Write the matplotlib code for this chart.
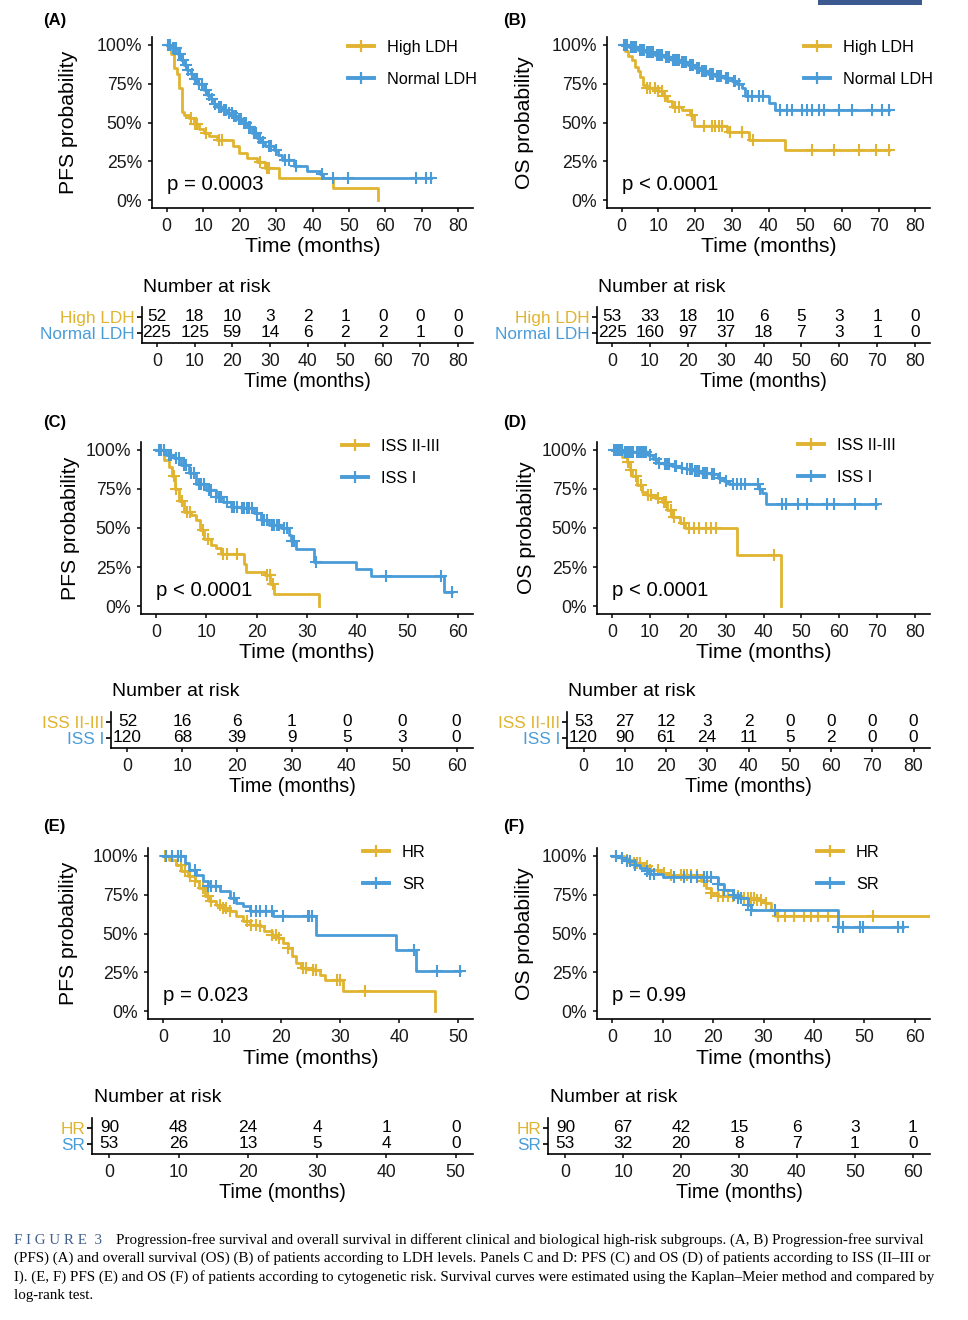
import numpy as np
import matplotlib
matplotlib.use("Agg")
import matplotlib.pyplot as plt
from matplotlib.lines import Line2D
from matplotlib.patches import Rectangle

plt.rcParams['font.family'] = ['Liberation Sans', 'DejaVu Sans']

GOLD = "#E0B430"
BLUE = "#4A9CD8"
W, H = 968, 1320

# ---- panel A: PFS by LDH ----
a_high_t = [0, 1.2, 2.1, 2.8, 3.4, 4.1, 4.8, 6.2, 7.5, 8.9, 10.3, 11.6, 13.9, 18.3, 19.8, 22.1, 24.8, 27.1, 30.7, 45.5, 58.0]
a_high_s = [1.0, 0.94, 0.85, 0.81, 0.72, 0.57, 0.55, 0.53, 0.49, 0.455, 0.43, 0.41, 0.385, 0.35, 0.305, 0.27, 0.246, 0.21, 0.145, 0.077, 0.0]
a_high_c = [6.6, 7.8, 8.4, 10.7, 14.4, 15.3, 25.6, 27.5, 28.0]
a_norm_t = [0, 1.5, 3, 4, 4.8, 5.7, 6.6, 7.5, 8.5, 10.3, 11.2, 12.1, 13, 13.9, 15.2, 16.6, 18, 19.4, 20.8, 22.1, 23.5,
            24.8, 26, 27.1, 29.4, 30.5, 31.6, 34.8, 38.4, 42.1, 43, 72.5]
a_norm_s = [1.0, 0.98, 0.94, 0.90, 0.87, 0.84, 0.81, 0.78, 0.75, 0.71, 0.68, 0.65, 0.62, 0.60, 0.58, 0.56, 0.54, 0.52, 0.495,
            0.47, 0.435, 0.40, 0.375, 0.35, 0.32, 0.29, 0.26, 0.22, 0.19, 0.167, 0.14, 0.14]
a_norm_c = [0.5, 1, 1.8, 2.3, 2.7, 3.3, 3.8, 4.4, 5.2, 6, 6.9, 7.8, 8.2, 9, 9.6, 10.8, 11.5, 12.5, 13.4, 14.5, 15, 15.8,
            16.3, 17.2, 17.8, 18.5, 19, 19.8, 20.3, 21.2, 21.7, 22.6, 23, 24, 24.4, 25.2, 25.6, 26.5, 28, 28.6, 30, 32.5,
            33.5, 35.5, 42.5, 45.7, 49.8, 68.4, 71.2, 72.5]

# ---- panel B: OS by LDH ----
b_high_t = [0, 0.9, 1.8, 2.7, 3.6, 4.5, 5.0, 5.9, 6.8, 10.0, 11.4, 12.3, 13.6, 16.4, 18.6, 19.6, 28.7, 34.6, 44.6, 72.8]
b_high_s = [1.0, 0.957, 0.925, 0.90, 0.86, 0.83, 0.79, 0.744, 0.72, 0.70, 0.67, 0.64, 0.60, 0.58, 0.55, 0.476, 0.44, 0.385, 0.32, 0.32]
b_high_c = [6.8, 7.7, 9.1, 10, 10.9, 11.8, 14.5, 15.5, 19.1, 22.3, 24.6, 25.5, 26.4, 27.3, 29.6, 32.7, 35.9, 51.9, 57.8,
            64.6, 69.2, 72.8]
b_norm_t = [0, 2, 4.5, 6.5, 9.1, 11.5, 13.6, 16, 18.2, 20, 21.8, 23.5, 25.5, 28, 30, 31.5, 32.8, 33.7, 40, 41.9, 72.8]
b_norm_s = [1.0, 0.985, 0.968, 0.952, 0.936, 0.92, 0.904, 0.888, 0.872, 0.85, 0.83, 0.815, 0.80, 0.785, 0.765, 0.745,
            0.72, 0.67, 0.626, 0.583, 0.583]
b_norm_c = [0.5, 1, 1.5, 2.5, 3, 3.5, 4, 5, 5.5, 6, 7, 7.5, 8, 8.5, 9.5, 10, 10.5, 11, 12, 12.5, 13, 14, 14.5, 15, 15.5,
            16.5, 17, 17.5, 18.5, 19, 19.5, 20.5, 21, 22, 22.5, 23, 24, 24.5, 25, 26, 26.5, 27, 28.5, 29, 30.5, 31, 32,
            34.5, 35.5, 37.5, 38.5, 43.2, 45, 46.4, 49.1, 50.5, 51.9, 53.7, 55, 59.1, 62.8, 68.2, 71, 72.8]

# ---- panel C: PFS by ISS ----
c_iss3_t = [0, 1.5, 2.5, 3.2, 3.8, 4.5, 5.5, 7, 8, 8.8, 9.5, 10.9, 11.9, 12.9, 17.4, 17.9, 21.7, 22.7, 23.4, 32.3]
c_iss3_s = [1.0, 0.936, 0.89, 0.83, 0.75, 0.67, 0.60, 0.58, 0.55, 0.486, 0.43, 0.39, 0.37, 0.336, 0.27, 0.22, 0.197, 0.143, 0.075, 0.0]
c_iss3_c = [3.5, 4.0, 5.1, 6.1, 6.8, 9.4, 10.4, 13.4, 14.1, 16.0, 22.0, 22.6, 23.3]
c_iss1_t = [0, 2, 3.5, 5, 6.5, 8, 10, 11.9, 13.4, 14.9, 16.9, 19.4, 20.9, 22.4, 24.9, 26.4, 26.9, 27.9, 31.3, 39.8, 42.8, 57.2, 58.9]
c_iss1_s = [1.0, 0.968, 0.946, 0.90, 0.85, 0.78, 0.74, 0.70, 0.668, 0.636, 0.625, 0.593, 0.55, 0.52, 0.497, 0.454, 0.42,
            0.368, 0.283, 0.24, 0.19, 0.09, 0.09]
c_iss1_c = [0.5, 1, 1.5, 2.5, 3, 4, 4.5, 5.5, 6, 7, 7.5, 8.5, 9, 9.5, 10.5, 11, 12, 12.5, 13, 14, 15, 15.5, 16, 17, 17.5,
            18, 18.5, 19, 20, 21, 21.5, 22, 23, 23.5, 24, 24.5, 25.5, 26, 27, 27.5, 31.8, 45.8, 56.7, 58.9]

# ---- panel D: OS by ISS ----
d_iss3_t = [0, 2.6, 4.0, 4.6, 5.3, 6.6, 7.9, 9.3, 11.2, 13.2, 14.6, 15.9, 17.9, 19.2, 33.1, 44.6]
d_iss3_s = [1.0, 0.957, 0.925, 0.87, 0.83, 0.775, 0.73, 0.71, 0.69, 0.668, 0.615, 0.572, 0.53, 0.497, 0.33, 0.0]
d_iss3_c = [4.1, 4.9, 6.2, 7.6, 9.4, 10.2, 12.0, 13.7, 14.2, 15.5, 16.4, 19.0, 20.4, 21.7, 23.0, 24.8, 26.1, 27.4, 42.8]
d_iss1_t = [0, 3, 9.4, 10.8, 12, 13.7, 15.9, 18.1, 19.4, 21.7, 23.4, 26.1, 27.9, 29.6, 31.0, 38.8, 39.7, 40.6, 70]
d_iss1_s = [1.0, 0.985, 0.97, 0.94, 0.918, 0.908, 0.897, 0.886, 0.876, 0.865, 0.854, 0.843, 0.822, 0.80, 0.783, 0.747,
            0.725, 0.655, 0.655]
d_iss1_c = [0.5, 1, 1.5, 2, 2.5, 3.5, 4, 4.5, 5, 5.5, 6.5, 7, 7.5, 8, 8.5, 9, 10, 11.5, 12.5, 14, 14.5, 15, 16.5, 17,
            18.5, 19.8, 20.5, 21, 22, 22.5, 23, 24, 24.5, 25, 26.5, 27, 28.5, 30, 32, 33, 34, 35, 38.5, 39.2, 45, 45.9,
            49, 51.6, 56.9, 58.6, 64.3, 69.6]

# ---- panel E: PFS by cytogenetic risk ----
e_hr_t = [0, 1.1, 2.3, 3.1, 4.2, 5.4, 6.2, 7.1, 7.9, 9, 10.2, 11.3, 12.4, 13.6, 14.7, 16.4, 17.2, 18.4, 19.5, 20.3, 21.2,
          21.8, 22.6, 23.4, 25.4, 26.6, 27.4, 30.5, 46]
e_hr_s = [1.0, 0.974, 0.942, 0.90, 0.867, 0.835, 0.79, 0.74, 0.707, 0.685, 0.664, 0.642, 0.61, 0.578, 0.557, 0.546, 0.514,
          0.49, 0.471, 0.439, 0.407, 0.353, 0.31, 0.278, 0.268, 0.236, 0.199, 0.133, 0.0]
e_hr_c = [0.3, 3, 3.8, 4.6, 5.4, 6.8, 7.6, 8.2, 9.6, 10.2, 10.7, 11.3, 14.2, 15, 15.8, 16.4, 18.5, 19.2, 19.7, 21.2,
          23.7, 24.3, 25.4, 26, 29.4, 30, 34.2]
e_sr_t = [0, 3.7, 4.5, 5.6, 6.8, 7.6, 9.6, 11.3, 12.4, 13.6, 14.7, 18.6, 26, 39.5, 42.9, 50.3]
e_sr_s = [1.0, 0.953, 0.91, 0.878, 0.835, 0.803, 0.771, 0.728, 0.696, 0.675, 0.642, 0.61, 0.49, 0.396, 0.26, 0.26]
e_sr_c = [0.5, 1.5, 2.5, 3, 5.5, 7.6, 8.2, 9, 12, 15, 15.8, 16.5, 17.5, 18.5, 20.4, 24.5, 24.8, 25.2, 42.5, 46.4, 50.3]

# ---- panel F: OS by cytogenetic risk ----
f_hr_t = [0, 2.3, 4.3, 6.3, 7.6, 9.6, 10.9, 17.6, 18.6, 19.6, 20.9, 25.9, 28.8, 30.2, 31.5, 32.2, 63]
f_hr_s = [1.0, 0.974, 0.953, 0.931, 0.91, 0.889, 0.878, 0.835, 0.792, 0.76, 0.739, 0.728, 0.717, 0.696, 0.653, 0.61, 0.61]
f_hr_c = [0.7, 3, 4.3, 5, 5.6, 7, 7.6, 9, 10.3, 11.6, 13.6, 14.3, 14.9, 15.6, 16.9, 18.2, 19.6, 20.9, 21.9, 22.9, 23.9,
          24.9, 26.2, 26.9, 27.5, 28.2, 28.8, 29.5, 30.5, 32.8, 34.2, 36.1, 38.1, 39.5, 40.8, 42.8, 51.7]
f_sr_t = [0, 1.7, 3, 4.5, 5.6, 7, 7.6, 10, 20.9, 22.2, 23.9, 24.9, 26.9, 27.5, 44.8, 57.7]
f_sr_s = [1.0, 0.985, 0.964, 0.942, 0.92, 0.90, 0.88, 0.865, 0.82, 0.78, 0.75, 0.728, 0.685, 0.653, 0.542, 0.542]
f_sr_c = [0.7, 2, 3, 3.6, 4.6, 7, 7.6, 8.3, 12.3, 14.3, 15.6, 16.9, 18.2, 18.9, 19.6, 20.9, 22.2, 24.2, 24.9, 25.5,
          26.9, 27.5, 32.2, 44.8, 45.8, 49.1, 49.7, 56.7, 57.7]

# ---- number at risk (every 10 months) ----
a_risk = [[52, 18, 10, 3, 2, 1, 0, 0, 0], [225, 125, 59, 14, 6, 2, 2, 1, 0]]
b_risk = [[53, 33, 18, 10, 6, 5, 3, 1, 0], [225, 160, 97, 37, 18, 7, 3, 1, 0]]
c_risk = [[52, 16, 6, 1, 0, 0, 0], [120, 68, 39, 9, 5, 3, 0]]
d_risk = [[53, 27, 12, 3, 2, 0, 0, 0, 0], [120, 90, 61, 24, 11, 5, 2, 0, 0]]
e_risk = [[90, 48, 24, 4, 1, 0], [53, 26, 13, 5, 4, 0]]
f_risk = [[90, 67, 42, 15, 6, 3, 1], [53, 32, 20, 8, 7, 1, 0]]

ldh_names = ["High LDH", "Normal LDH"]
iss_names = ["ISS II-III", "ISS I"]
cyto_names = ["HR", "SR"]

fig = plt.figure(figsize=(W / 100, H / 100), dpi=100)
fig.patch.set_facecolor("white")


def px_axes(x0, y0, x1, y1):
    return fig.add_axes([x0 / W, 1 - y1 / H, (x1 - x0) / W, (y1 - y0) / H])


def style_axes(ax, xmax):
    for side in ["top", "right"]:
        ax.spines[side].set_visible(False)
    for side in ["left", "bottom"]:
        ax.spines[side].set_linewidth(1.2)
    ax.set_xlim(-0.05 * xmax, 1.05 * xmax)
    ax.set_xticks(np.arange(0, xmax + 1, 10))
    ax.tick_params(axis="x", length=3, width=1.2, pad=4, labelsize=12.7, colors="#1a1a1a")
    ax.set_facecolor("none")


def km_panel(box, xmax, curves, names, ylab, ptext, leg_xy, ylab_x):
    ax = px_axes(*box)
    style_axes(ax, xmax)
    for (t, s, cens), col in zip(curves, [GOLD, BLUE]):
        t = np.asarray(t)
        s = np.asarray(s)
        ax.step(t, s, where="post", color=col, lw=2.0)
        c = np.asarray(cens)
        cy = s[np.searchsorted(t, c, side="right") - 1]
        ax.plot(c, cy, ls="none", marker="+", ms=8, mew=1.5, color=col)
    ax.set_ylim(-0.05, 1.05)
    ax.set_yticks([0, 0.25, 0.5, 0.75, 1.0])
    ax.set_yticklabels(["0%", "25%", "50%", "75%", "100%"])
    ax.tick_params(axis="y", length=3, width=1.2, pad=4, labelsize=12.7, colors="#1a1a1a")
    ax.set_xlabel("Time (months)", fontsize=15.2, va="center")
    ax.xaxis.set_label_coords(0.5, -39 / (box[3] - box[1]))
    ax.set_ylabel(ylab, fontsize=15.2, va="center")
    ax.yaxis.set_label_coords((ylab_x - box[0]) / (box[2] - box[0]), 0.5)
    ax.text(0, 0.1, ptext, fontsize=14.7, ha="left", va="center")
    handles = [Line2D([], [], color=col, lw=2.8, marker="+", ms=9, mew=1.6) for col in [GOLD, BLUE]]
    ax.legend(handles, names, loc="upper left", bbox_to_anchor=(leg_xy[0] / W, 1 - (leg_xy[1] - 7) / H),
              bbox_transform=fig.transFigure, frameon=False, fontsize=11.7, handlelength=1.6,
              handletextpad=0.8, labelspacing=1.02, borderpad=0, borderaxespad=0, numpoints=1)
    return ax


def risk_panel(box, xmax, rows, names):
    ax = px_axes(*box)
    style_axes(ax, xmax)
    ax.set_ylim(-0.625, 1.625)
    times = np.arange(0, xmax + 1, 10)
    for i, vals in enumerate(rows):
        for t, v in zip(times, vals):
            ax.text(t, 1 - i, str(v), ha="center", va="center", fontsize=12.4)
    ax.set_yticks([1, 0])
    ax.set_yticklabels(names)
    ax.tick_params(axis="y", length=3.5, width=1.2, pad=1.5, labelsize=12.4)
    for lab, col in zip(ax.get_yticklabels(), [GOLD, BLUE]):
        lab.set_color(col)
    ax.set_xlabel("Time (months)", fontsize=14.2, va="center")
    ax.xaxis.set_label_coords(0.5, -39 / (box[3] - box[1]))
    ax.text(0.004, 1 + 20 / (box[3] - box[1]), "Number at risk", transform=ax.transAxes,
            fontsize=14, ha="left", va="center")
    return ax


km_panel((152, 37, 473, 208), 80,
         [(a_high_t, a_high_s, a_high_c), (a_norm_t, a_norm_s, a_norm_c)],
         ldh_names, "PFS probability", "p = 0.0003", (348, 47), 68)
km_panel((607, 37, 930, 208), 80,
         [(b_high_t, b_high_s, b_high_c), (b_norm_t, b_norm_s, b_norm_c)],
         ldh_names, "OS probability", "p < 0.0001", (804, 47), 524)
km_panel((141, 442, 473, 614), 60,
         [(c_iss3_t, c_iss3_s, c_iss3_c), (c_iss1_t, c_iss1_s, c_iss1_c)],
         iss_names, "PFS probability", "p < 0.0001", (342, 446), 70)
km_panel((597, 442, 930, 614), 80,
         [(d_iss3_t, d_iss3_s, d_iss3_c), (d_iss1_t, d_iss1_s, d_iss1_c)],
         iss_names, "OS probability", "p < 0.0001", (798, 445), 526)
km_panel((148, 848, 473, 1019), 50,
         [(e_hr_t, e_hr_s, e_hr_c), (e_sr_t, e_sr_s, e_sr_c)],
         cyto_names, "PFS probability", "p = 0.023", (363, 852), 68)
km_panel((597, 848, 930, 1019), 60,
         [(f_hr_t, f_hr_s, f_hr_c), (f_sr_t, f_sr_s, f_sr_c)],
         cyto_names, "OS probability", "p = 0.99", (817, 852), 524)

risk_panel((142, 307, 473, 343), 80, a_risk, ldh_names)
risk_panel((597, 307, 930, 343), 80, b_risk, ldh_names)
risk_panel((111, 712, 473, 748), 60, c_risk, iss_names)
risk_panel((567, 712, 930, 748), 80, d_risk, iss_names)
risk_panel((92, 1118, 473, 1154), 50, e_risk, cyto_names)
risk_panel((548, 1118, 930, 1154), 60, f_risk, cyto_names)

# panel letters
for lab, x, y in [("(A)", 43, 20), ("(B)", 503, 20), ("(C)", 43, 423), ("(D)", 503, 422),
                  ("(E)", 43, 827), ("(F)", 503, 827)]:
    fig.text(x / W, 1 - y / H, lab, fontsize=12, fontweight="bold", va="center", ha="left")

# journal logo strip at the top right
fig.patches.append(Rectangle((818 / W, 1 - 5 / H), 104 / W, 5 / H, transform=fig.transFigure,
                             facecolor="#3C5A8F", edgecolor="none"))

# caption
cap = [
    "Progression-free survival and overall survival in different clinical and biological high-risk subgroups. (A, B) Progression-free survival",
    "(PFS) (A) and overall survival (OS) (B) of patients according to LDH levels. Panels C and D: PFS (C) and OS (D) of patients according to ISS (II\u2013III or",
    "I). (E, F) PFS (E) and OS (F) of patients according to cytogenetic risk. Survival curves were estimated using the Kaplan\u2013Meier method and compared by",
    "log-rank test.",
]
renderer = fig.canvas.get_renderer()
probe = fig.text(14 / W, 1 - 1258 / H, cap[1], fontsize=10, family="Liberation Serif", va="center")
cap_fs = 10 * 921 / probe.get_window_extent(renderer).width
probe.remove()

fig.text(14 / W, 1 - 1240 / H, "F I G U R E  3", fontsize=cap_fs, family="Liberation Serif",
         color="#3F5F8F", va="center")
fig.text(116 / W, 1 - 1240 / H, cap[0], fontsize=cap_fs, family="Liberation Serif", va="center")
for line, y in zip(cap[1:], [1258, 1277, 1296]):
    fig.text(14 / W, 1 - y / H, line, fontsize=cap_fs, family="Liberation Serif", va="center")

fig.savefig("out.png", dpi=100)
